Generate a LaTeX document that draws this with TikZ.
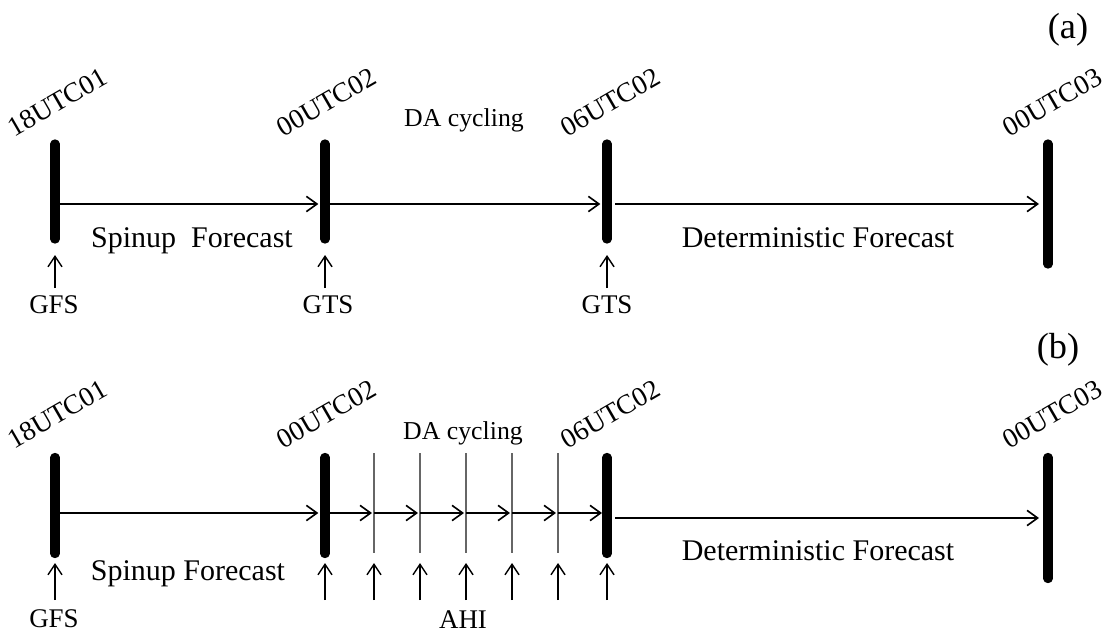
\documentclass[tikz,border=0pt]{standalone}
\usepackage{fontspec}
\setmainfont{Liberation Serif}
\usetikzlibrary{arrows.meta}

\tikzset{
  bar/.style={line width=8pt, line cap=round},
  flow/.style={-{Straight Barb[length=9pt,width=13pt]}, line width=1.4pt,
    shorten <=1.5mm, shorten >=2mm},
  obs/.style={-{Straight Barb[length=9pt,width=12pt]}, line width=1.2pt},
  tick/.style={line width=1.1pt, black!60},
  stamp/.style={rotate=30, anchor=base, inner sep=0pt, font=\fontsize{23.5}{28}\selectfont},
  span/.style={anchor=base, inner sep=0pt, font=\fontsize{25.6}{30}\selectfont},
  phase/.style={anchor=base, inner sep=0pt, font=\fontsize{22}{26}\selectfont},
  src/.style={anchor=base, inner sep=0pt, font=\fontsize{23}{27}\selectfont},
  panel/.style={inner sep=0pt, font=\fontsize{31}{36}\selectfont},
}

\begin{document}
\begin{tikzpicture}[x=0.03cm, y=-0.03cm]
  \useasboundingbox (0,0) rectangle (1113,641);

  %% ===================== PANEL (a) =====================
  \node[panel] (labA) at (1068,30) {(a)};

  % time axis points
  \coordinate (a1) at (55,204);
  \coordinate (a2) at (325,204);
  \coordinate (a3) at (607,204);
  \coordinate (a4) at (1048,204);

  % thick bars
  \draw[bar] (a1) ++(0,-60) -- ++(0,95);
  \draw[bar] (a2) ++(0,-60) -- ++(0,95);
  \draw[bar] (a3) ++(0,-60) -- ++(0,95);
  \draw[bar] (a4) ++(0,-60) -- ++(0,120);

  % dates
  \node[stamp] (dA1) at (62,110) {18UTC01};
  \node[stamp] (dA2) at (331,110) {00UTC02};
  \node[stamp] (dA3) at (615,110) {06UTC02};
  \node[stamp] (dA4) at (1057,110) {00UTC03};

  % forecast segments
  \draw[flow] (a1) -- (a2);
  \draw[flow] (a2) -- (a3);
  \draw[flow, shorten <=2.4mm, shorten >=2.7mm] (a3) -- (a4);
  \node[span] (spinA) at (192,247) {Spinup~~Forecast};
  \node[phase] (daA) at (464,126) {DA cycling};
  \node[span] (detA) at (818,247) {Deterministic Forecast};

  % observations
  \foreach \c in {a1,a2,a3}
    \draw[obs] (\c) ++(0,84) -- ++(0,-33);
  \node[src] (gfsA) at (54,313) {GFS};
  \node[src] (gtsA2) at (328,313) {GTS};
  \node[src] (gtsA3) at (607,313) {GTS};

  %% ===================== PANEL (b) =====================
  \node[panel] (labB) at (1058,350) {(b)};

  % time axis points
  \coordinate (b1) at (55,513);
  \coordinate (b2) at (325,513);
  \coordinate (b3) at (607,513);
  \coordinate (b4) at (1048,513);

  % thick bars
  \draw[bar] (b1) ++(0,-55.5) -- ++(0,96);
  \draw[bar] (b2) ++(0,-55.5) -- ++(0,96);
  \draw[bar] (b3) ++(0,-55.5) -- ++(0,96);
  \draw[bar] (b4) ++(0,-55.5) -- ++(0,121);

  % hourly AHI ticks
  \foreach \i/\x in {1/374,2/420,3/466,4/512,5/558} {
    \coordinate (t\i) at (\x,513);
    \draw[tick] (t\i) ++(0,-60) -- ++(0,100);
  }

  % dates
  \node[stamp] (dB1) at (62,422) {18UTC01};
  \node[stamp] (dB2) at (331,422) {00UTC02};
  \node[stamp] (dB3) at (615,422) {06UTC02};
  \node[stamp] (dB4) at (1057,422) {00UTC03};

  % forecast segments
  \draw[flow] (b1) -- (b2);
  \draw[flow, shorten >=0.6mm] (b2) -- (t1);
  \draw[flow, shorten <=0mm, shorten >=0.6mm] (t1) -- (t2);
  \draw[flow, shorten <=0mm, shorten >=0.6mm] (t2) -- (t3);
  \draw[flow, shorten <=0mm, shorten >=0.6mm] (t3) -- (t4);
  \draw[flow, shorten <=0mm, shorten >=0.6mm] (t4) -- (t5);
  \draw[flow, shorten <=0mm, shorten >=1.5mm] (t5) -- (b3);
  \draw[flow, shorten <=2.4mm, shorten >=2.7mm] ([yshift=-1.5mm]b3) -- ([yshift=-1.5mm]b4);
  \node[span] (spinB) at (188,580) {Spinup Forecast};
  \node[phase] (daB) at (463,439) {DA cycling};
  \node[span] (detB) at (818,560) {Deterministic Forecast};

  % observations
  \foreach \c in {b1,b2,t1,t2,t3,t4,t5,b3}
    \draw[obs] (\c) ++(0,87) -- ++(0,-37);
  \node[src] (gfsB) at (54,627) {GFS};
  \node[src] (ahiB) at (463,628) {AHI};

\end{tikzpicture}
\end{document}
